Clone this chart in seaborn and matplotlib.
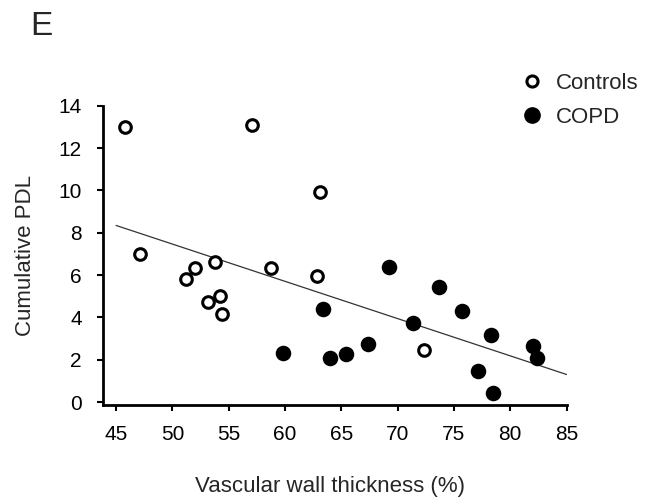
#!/usr/bin/env python3

import numpy as np
import pandas as pd
import seaborn as sns
import matplotlib.pyplot as plt
from matplotlib.lines import Line2D

sns.set_style("white")
plt.rcParams['font.family'] = ['Liberation Sans', 'DejaVu Sans']

# valores
controls_x = [45.8, 47.1, 51.2, 52.0, 53.8, 53.2, 54.2, 54.4, 57.1, 58.8, 62.8, 63.1, 72.3]
controls_y = [13.0, 7.0, 5.8, 6.35, 6.6, 4.75, 5.0, 4.15, 13.1, 6.35, 5.95, 9.95, 2.45]
copd_x = [59.8, 63.4, 64.0, 65.4, 67.4, 69.2, 71.4, 73.7, 75.7, 77.1, 78.3, 78.5, 82.0, 82.4]
copd_y = [2.3, 4.4, 2.1, 2.25, 2.75, 6.4, 3.75, 5.45, 4.3, 1.45, 3.15, 0.45, 2.65, 2.1]
x_ticks = [45, 50, 55, 60, 65, 70, 75, 80, 85]
y_ticks = [0, 2, 4, 6, 8, 10, 12, 14]

df_ctrl = pd.DataFrame({"x": controls_x, "y": controls_y})
df_copd = pd.DataFrame({"x": copd_x, "y": copd_y})
df_all = pd.concat([df_ctrl, df_copd], ignore_index=True)

# reta de regressao linear (todos os sujeitos)
slope, intercept = np.polyfit(df_all["x"], df_all["y"], 1)
df_fit = pd.DataFrame({"x": [x_ticks[0], x_ticks[-1]]})
df_fit["y"] = intercept + slope * df_fit["x"]

fig = plt.figure(figsize=(6.49, 5.04), dpi=100)
ax = fig.add_axes([0.158, 0.196, 0.715, 0.594])

sns.lineplot(data=df_fit, x="x", y="y", color="#333333", lw=0.9, ax=ax)
sns.scatterplot(data=df_ctrl, x="x", y="y", marker="o", s=70, facecolor="white",
                edgecolor="black", linewidth=2.2, ax=ax, zorder=3)
sns.scatterplot(data=df_copd, x="x", y="y", marker="o", s=125, color="black",
                edgecolor="black", linewidth=0, ax=ax, zorder=3)

ax.set_xlim(43.8, 85)
ax.set_ylim(-0.15, 14)
ax.set_xticks(x_ticks)
ax.set_yticks(y_ticks)
ax.tick_params(axis='both', direction='out', length=4, width=1.5, labelsize=15,
               colors='black', bottom=True, left=True)
ax.tick_params(axis='x', pad=10)
ax.tick_params(axis='y', pad=11)
for s in ['top', 'right']:
    ax.spines[s].set_visible(False)
for s in ['left', 'bottom']:
    ax.spines[s].set_linewidth(2)
    ax.spines[s].set_color('black')

ax.set_xlabel("Vascular wall thickness (%)", fontsize=16, labelpad=20)
ax.xaxis.set_label_coords(0.49, -0.235)
ax.set_ylabel("Cumulative PDL", fontsize=16, labelpad=16)

handles = [
    Line2D([], [], marker='o', ls='', markersize=8, markerfacecolor='white',
           markeredgecolor='black', markeredgewidth=2.2, label='Controls'),
    Line2D([], [], marker='o', ls='', markersize=11, markerfacecolor='black',
           markeredgecolor='black', label='COPD'),
]
fig.legend(handles=handles, loc='upper left', bbox_to_anchor=(0.768, 0.895),
           frameon=False, fontsize=16, handletextpad=0.5, labelspacing=0.6,
           handlelength=1.2)

fig.text(0.047, 0.93, "E", fontsize=24)

plt.savefig("out.png", dpi=100)
